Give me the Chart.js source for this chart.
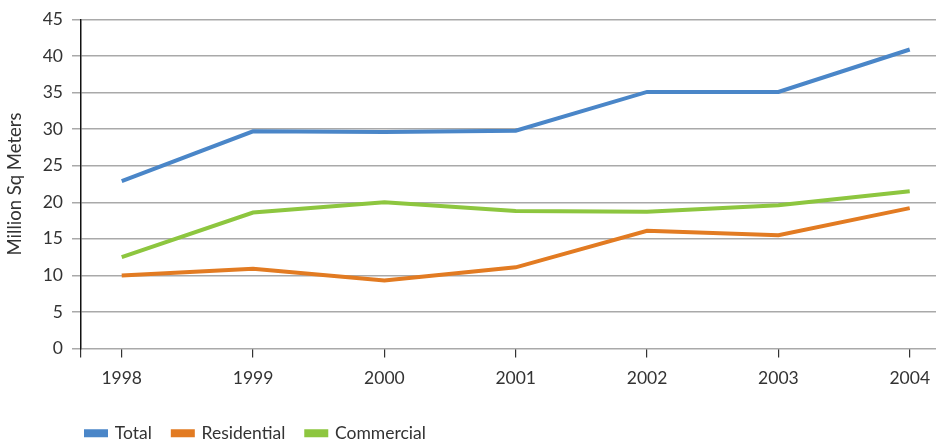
<!DOCTYPE html>
<html lang="en">
<head>
  <meta charset="UTF-8" />
  <title>Floor Space Built</title>
  <script src="https://cdn.jsdelivr.net/npm/chart.js"></script>
  <style>
    html, body {
      margin: 0;
      padding: 0;
      background: #ffffff;
    }

    #wrap {
      width: 936px;
      height: 440px;
    }
  </style>
</head>
<body>
  <div id="wrap">
    <canvas id="spaceChart"></canvas>
  </div>

  <script>
    const years = [1998, 1999, 2000, 2001, 2002, 2003, 2004];
    const totalSpace = [22.9, 29.7, 29.6, 29.8, 35.1, 35.1, 40.9];
    const residentialSpace = [10.0, 10.9, 9.3, 11.1, 16.1, 15.5, 19.2];
    const commercialSpace = [12.5, 18.6, 20.0, 18.8, 18.7, 19.6, 21.5];

    const textColor = '#333333';
    const font = { family: 'Lato, sans-serif', size: 17.5 };

    // left edge of the x range sits a bit before the first year
    const xMin = 1997.69;
    const xMax = 2004.2;

    function series(label, values, color) {
      return {
        label: label,
        data: years.map((y, i) => ({ x: y, y: values[i] })),
        borderColor: color,
        backgroundColor: color,
        borderWidth: 4,
        pointRadius: 0,
        tension: 0
      };
    }

    // nudge the legend so it starts under the y axis and sits lower
    const legendShift = {
      id: 'legendShift',
      afterLayout(chart) {
        const lg = chart.legend;
        lg.left -= 16;
        lg.right -= 16;
        lg.top += 12;
        lg.bottom += 12;
      }
    };

    new Chart(document.getElementById('spaceChart'), {
      type: 'line',
      data: {
        datasets: [
          series('Total', totalSpace, '#4a86c8'),
          series('Residential', residentialSpace, '#e27b22'),
          series('Commercial', commercialSpace, '#8dc63f')
        ]
      },
      options: {
        responsive: true,
        maintainAspectRatio: false,
        animation: false,
        layout: { padding: { top: 8, right: 0, bottom: 0, left: 0 } },
        scales: {
          x: {
            type: 'linear',
            min: xMin,
            max: xMax,
            afterBuildTicks: axis => {
              axis.ticks = [xMin].concat(years).map(v => ({ value: v }));
            },
            afterFit: scale => {
              scale.paddingRight = 0;
              scale.height -= 7;
            },
            ticks: {
              color: textColor,
              font: font,
              padding: 10,
              autoSkip: false,
              maxRotation: 0,
              callback: v => (v >= 1998 ? String(v) : '')
            },
            grid: {
              drawOnChartArea: false,
              tickLength: 9,
              color: '#333333',
              lineWidth: 1.2
            },
            border: { display: false }
          },
          y: {
            min: 0,
            max: 45,
            afterFit: scale => { scale.width = 81; },
            ticks: {
              stepSize: 5,
              color: textColor,
              font: font,
              padding: 9
            },
            grid: {
              color: '#a9a9a9',
              lineWidth: 1.5,
              tickLength: 9
            },
            border: { color: '#111111', width: 1.5 },
            title: {
              display: true,
              text: 'Million Sq Meters',
              color: textColor,
              font: { family: 'Lato, sans-serif', size: 18.5 },
              padding: { top: 4, bottom: 0 }
            }
          }
        },
        plugins: {
          legend: {
            position: 'bottom',
            align: 'start',
            fullSize: false,
            labels: {
              color: textColor,
              font: font,
              boxWidth: 20,
              boxHeight: 4,
              padding: 21
            }
          },
          tooltip: { enabled: false }
        }
      },
      plugins: [legendShift]
    });
  </script>
</body>
</html>
